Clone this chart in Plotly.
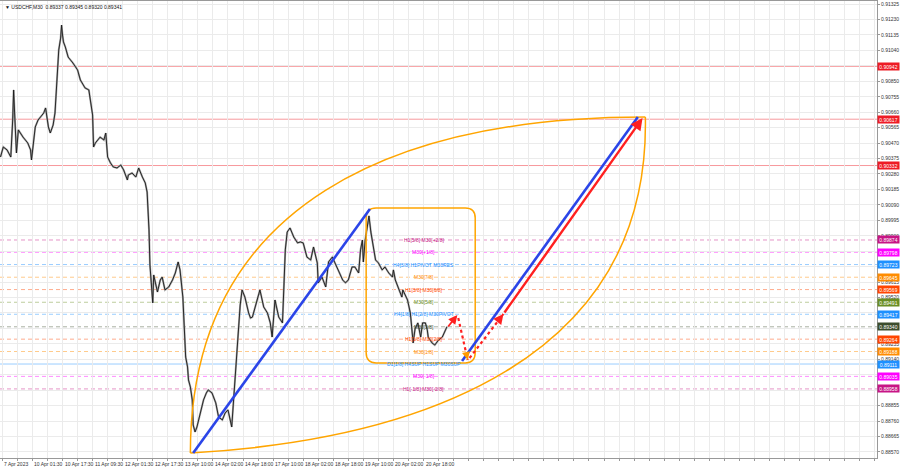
import plotly.graph_objects as go

# ---------------- data ----------------
bars = [0, 3, 7, 11, 13, 14, 15, 17, 19, 21, 24, 29, 32, 33, 35, 37, 40, 46, 48, 51, 53, 56, 58,
        61, 62, 64, 65, 66, 67, 69, 72, 77, 82, 85, 90, 94, 97, 98, 99, 101, 106, 110, 112, 114,
        117, 120, 124, 128, 131, 135, 136, 140, 144, 147, 151, 154, 156, 158, 159, 162, 163, 165,
        167, 170, 172, 175, 179, 183, 186, 189, 191, 194, 195, 197, 199, 200, 202, 204, 205, 207,
        209, 213, 216, 219, 221, 225, 229, 232, 236, 239, 242, 246, 248, 250, 252, 253, 255, 257,
        260, 264, 266, 268, 271, 274, 276, 280, 284, 287, 289, 292, 296, 300, 301, 303, 305, 308,
        312, 316, 319, 322, 326, 330, 333, 337, 338, 342, 346, 349, 353, 356, 359, 364, 367, 370,
        374, 377, 381, 383, 385, 386, 388, 391, 392, 394, 397, 399, 402, 406, 409, 413, 417, 418,
        420, 423, 427, 428, 433, 436, 438, 439, 441, 444, 447, 449, 452, 454, 455, 459, 462, 466,
        470, 473, 475]
closes = [0.90384, 0.90446, 0.90428, 0.90384, 0.90612, 0.90797, 0.90661, 0.90409, 0.90551, 0.90532,
          0.90507, 0.90471, 0.90428, 0.90366, 0.90489, 0.90569, 0.90612, 0.90655, 0.90686, 0.90569,
          0.90532, 0.90581, 0.90655, 0.90963, 0.91043, 0.91116, 0.91196, 0.91135, 0.91092, 0.91061,
          0.90999, 0.90963, 0.90920, 0.90858, 0.90809, 0.90797, 0.90692, 0.90643, 0.90446, 0.90471,
          0.90507, 0.90489, 0.90532, 0.90384, 0.90348, 0.90323, 0.90317, 0.90335, 0.90305, 0.90243,
          0.90274, 0.90286, 0.90261, 0.90317, 0.90261, 0.90225, 0.90169, 0.89936, 0.89720, 0.89487,
          0.89659, 0.89597, 0.89554, 0.89628, 0.89646, 0.89567, 0.89585, 0.89628, 0.89671, 0.89739,
          0.89690, 0.89523, 0.89364, 0.89154, 0.89093, 0.89013, 0.88970, 0.88890, 0.88736, 0.88693,
          0.88724, 0.88810, 0.88890, 0.88933, 0.88952, 0.88933, 0.88872, 0.88785, 0.88767, 0.88810,
          0.88829, 0.88724, 0.88890, 0.89044, 0.89198, 0.89321, 0.89474, 0.89567, 0.89523, 0.89425,
          0.89394, 0.89400, 0.89462, 0.89523, 0.89567, 0.89462, 0.89425, 0.89364, 0.89277, 0.89505,
          0.89400, 0.89364, 0.89567, 0.89813, 0.89923, 0.89948, 0.89892, 0.89856, 0.89862, 0.89856,
          0.89769, 0.89751, 0.89831, 0.89733, 0.89610, 0.89646, 0.89585, 0.89739, 0.89769, 0.89733,
          0.89690, 0.89628, 0.89610, 0.89628, 0.89708, 0.89708, 0.89671, 0.89813, 0.89874, 0.89739,
          0.89874, 0.89985, 0.90022, 0.89923, 0.89813, 0.89751, 0.89733, 0.89690, 0.89708, 0.89671,
          0.89646, 0.89690, 0.89628, 0.89585, 0.89523, 0.89567, 0.89505, 0.89425, 0.89321, 0.89241,
          0.89327, 0.89364, 0.89277, 0.89364, 0.89364, 0.89321, 0.89277, 0.89241, 0.89228, 0.89259,
          0.89277, 0.89321, 0.89341]

y_ticks = [0.88570, 0.88665, 0.88760, 0.88855, 0.88950, 0.89045, 0.89140, 0.89235, 0.89330,
           0.89425, 0.89520, 0.89615, 0.89710, 0.89805, 0.89900, 0.89995, 0.90090, 0.90185,
           0.90280, 0.90375, 0.90470, 0.90565, 0.90660, 0.90755, 0.90850, 0.90945, 0.91040,
           0.91135, 0.91230, 0.91325]

x_label_bars = [2, 34, 66, 98, 130, 162, 194, 226, 258, 290, 322, 354, 386, 418, 450]
x_labels = ["7 Apr 2023", "10 Apr 01:30", "10 Apr 17:30", "11 Apr 09:30", "12 Apr 01:30",
            "12 Apr 17:30", "13 Apr 10:00", "14 Apr 02:00", "14 Apr 18:00", "17 Apr 10:00",
            "18 Apr 02:00", "18 Apr 18:00", "19 Apr 10:00", "20 Apr 02:00", "20 Apr 18:00"]
x_grid = list(range(2, 932, 16))

# horizontal levels
level_prices = [0.90942, 0.90617, 0.90332, 0.89874, 0.89798, 0.89723, 0.89645, 0.89569,
                0.89491, 0.89417, 0.89340, 0.89264, 0.89188, 0.89111, 0.89035, 0.88958]
level_colors = ["#EE1C25", "#EE1C25", "#EE1C25", "#C71585", "#FF00FF", "#1E90FF", "#FF8C00",
                "#FF4500", "#6B8E23", "#1E90FF", "#3D4D2D", "#FF4500", "#FF8C00", "#1E90FF",
                "#FF00FF", "#C71585"]
level_solid = [True, True, True, False, False, False, False, False, False, False, False,
               False, False, True, False, False]
level_names = ["", "", "", "H1[5/8] M30[+2/8]", "M30[+1/8]", "H4[3/8] H1PIVOT M30RES",
               "M30[7/8]", "H1[3/8] M30[6/8]", "M30[5/8]", "H4[1/8] H1[2/8] M30PIVOT",
               "M30[3/8]", "H1[1/8] M30[2/8]", "M30[1/8]", "D1[1/8] H4SUP H1SUP M30SUP",
               "M30[-1/8]", "H1[-1/8] M30[-2/8]"]
name_bar = 450

# drawn objects (bar index, price)
blue1 = [(205, 0.88564), (393, 0.90065)]
blue2 = [(491, 0.89130), (678, 0.90630)]
red_main = [(535, 0.89419), (683, 0.90624)]
red_short = [(475, 0.89333), (486, 0.89413)]
red_dot1 = [(487, 0.89394), (497, 0.89136)]
red_dot2 = [(499, 0.89148), (535, 0.89419)]
box = [(389, 0.89118), (505, 0.90071)]
lens_start = (202, 0.88564)
lens_end = (686, 0.90630)
lens_upper_ctrl = [(202, 0.90120), (425, 0.90630)]
lens_lower_ctrl = [(447, 0.88644), (691, 0.89136)]

header = "▼ USDCHF,M30  0.89337 0.89345 0.89320 0.89341"


def rgba(hexc, a):
    h = hexc.lstrip('#')
    r, g, b = int(h[0:2], 16), int(h[2:4], 16), int(h[4:6], 16)
    return f"rgba({r},{g},{b},{a})"


FONT = "Liberation Sans"
fig = go.Figure()

fig.add_trace(go.Scatter(x=bars, y=closes, mode="lines",
                         line=dict(color="#a8a8a8", width=2.0),
                         hoverinfo="skip", showlegend=False))
fig.add_trace(go.Scatter(x=bars, y=closes, mode="lines",
                         line=dict(color="#1a1a1a", width=0.9),
                         hoverinfo="skip", showlegend=False))

shapes = []
annotations = []

for p, c, solid, name in zip(level_prices, level_colors, level_solid, level_names):
    shapes.append(dict(type="line", xref="paper", x0=0, x1=1, yref="y", y0=p, y1=p,
                       line=dict(color=rgba(c, 0.45), width=1,
                                 dash="solid" if solid else "4px,3px"),
                       layer="below"))
    annotations.append(dict(xref="paper", x=1.0, yref="y", y=p, xanchor="left",
                            yanchor="middle", text=f"{p:.5f}", showarrow=False,
                            font=dict(family=FONT, size=5, color="white"),
                            bgcolor=c, width=21, height=7, borderpad=0))
    if name:
        annotations.append(dict(xref="x", x=name_bar, yref="y", y=p, xanchor="center",
                                yanchor="middle", text=name, showarrow=False,
                                font=dict(family=FONT, size=5, color=c)))

# rounded box
(bx0, by0), (bx1, by1) = box
rx, ry = 10.6, 0.00062
box_path = (f"M {bx0+rx},{by1} L {bx1-rx},{by1} Q {bx1},{by1} {bx1},{by1-ry} "
            f"L {bx1},{by0+ry} Q {bx1},{by0} {bx1-rx},{by0} L {bx0+rx},{by0} "
            f"Q {bx0},{by0} {bx0},{by0+ry} L {bx0},{by1-ry} Q {bx0},{by1} {bx0+rx},{by1} Z")
shapes.append(dict(type="path", xref="x", yref="y", path=box_path,
                   line=dict(color="#FFA500", width=1.5)))

# lens arcs
for ctrl in (lens_upper_ctrl, lens_lower_ctrl):
    path = (f"M {lens_start[0]},{lens_start[1]} C {ctrl[0][0]},{ctrl[0][1]} "
            f"{ctrl[1][0]},{ctrl[1][1]} {lens_end[0]},{lens_end[1]}")
    shapes.append(dict(type="path", xref="x", yref="y", path=path,
                       line=dict(color="#FFA500", width=1.5)))

# blue trend lines
for seg in (blue1, blue2):
    shapes.append(dict(type="line", xref="x", yref="y", x0=seg[0][0], y0=seg[0][1],
                       x1=seg[1][0], y1=seg[1][1], line=dict(color="#2B45E8", width=2.6)))

# red dotted segments
for seg in (red_dot1, red_dot2):
    shapes.append(dict(type="line", xref="x", yref="y", x0=seg[0][0], y0=seg[0][1],
                       x1=seg[1][0], y1=seg[1][1],
                       line=dict(color="#FF2020", width=2.2, dash="dot")))

# arrows
for seg, col, w in ((red_main, "#FF2020", 2.4), (red_short, "#FF2020", 1.8)):
    annotations.append(dict(xref="x", yref="y", axref="x", ayref="y",
                            x=seg[1][0], y=seg[1][1], ax=seg[0][0], ay=seg[0][1],
                            showarrow=True, arrowhead=2, arrowsize=1.0, arrowwidth=w,
                            arrowcolor=col, text=""))
annotations.append(dict(xref="x", yref="y", axref="x", ayref="y",
                        x=red_dot2[1][0], y=red_dot2[1][1],
                        ax=red_dot2[1][0] - 6, ay=red_dot2[1][1] - 0.00045,
                        showarrow=True, arrowhead=2, arrowsize=1.0, arrowwidth=2,
                        arrowcolor="#FF2020", text=""))
annotations.append(dict(xref="x", yref="y", axref="x", ayref="y",
                        x=red_dot1[1][0], y=red_dot1[1][1],
                        ax=red_dot1[1][0] - 1.5, ay=red_dot1[1][1] + 0.0004,
                        showarrow=True, arrowhead=2, arrowsize=1.0, arrowwidth=1.6,
                        arrowcolor="#FF9900", text=""))

# x labels
for b, t in zip(x_label_bars, x_labels):
    annotations.append(dict(xref="x", x=b, yref="paper", y=0, xanchor="left",
                            yanchor="top", yshift=-1, text=t, showarrow=False,
                            font=dict(family=FONT, size=5, color="#333")))

annotations.append(dict(xref="paper", x=0.003, yref="paper", y=0.998, xanchor="left",
                        yanchor="top", text=header, showarrow=False,
                        font=dict(family=FONT, size=5, color="#111")))

fig.update_layout(
    width=900, height=468,
    margin=dict(l=0, r=23, t=1, b=10, pad=0, autoexpand=False),
    paper_bgcolor="white", plot_bgcolor="white",
    shapes=shapes, annotations=annotations,
    showlegend=False,
    xaxis=dict(range=[-0.5, 932.4], tickvals=x_grid, showticklabels=False,
               showgrid=True, gridcolor="#EBEBEB", gridwidth=1, zeroline=False,
               ticks="outside", ticklen=2, tickcolor="#999", automargin=False,
               showline=True, linecolor="#999", mirror=True),
    yaxis=dict(range=[0.88533, 0.91344], side="right", tickvals=y_ticks,
               ticktext=[f"{v:.5f}" for v in y_ticks],
               tickfont=dict(family=FONT, size=5, color="#333"),
               showgrid=True, gridcolor="#EBEBEB", gridwidth=1, zeroline=False,
               ticks="outside", ticklen=2, tickcolor="#999", automargin=False,
               showline=True, linecolor="#999", mirror=True),
)

fig.write_html("out.html",
               config={"displayModeBar": False},
               post_script="document.body.style.margin='0px';"
                           "document.body.style.overflow='hidden';")
